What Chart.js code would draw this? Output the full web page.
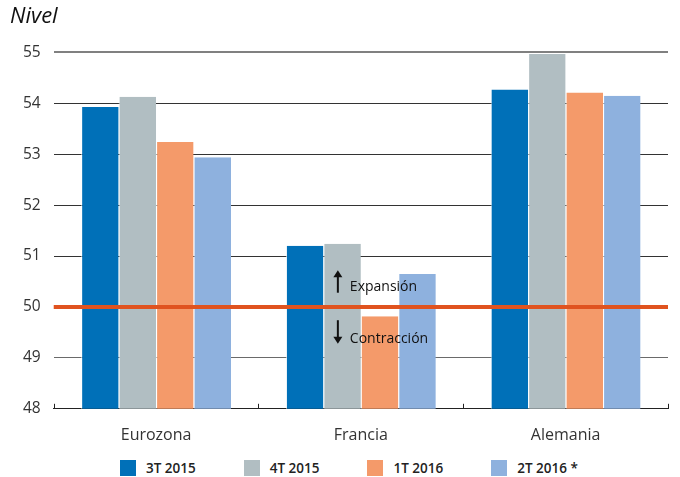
<!DOCTYPE html>
<html>
<head>
<meta charset="utf-8">
<script src="https://cdn.jsdelivr.net/npm/chart.js@4.4.1/dist/chart.umd.min.js"></script>
<style>
  html, body { margin: 0; padding: 0; background: #fff; }
  #wrap { width: 680px; height: 450px; position: relative; }
  #legend {
    position: absolute; left: 120px; top: 459px;
    display: flex; gap: 48px;
    font-family: "Open Sans", "Noto Sans", sans-serif;
    font-size: 13.5px; font-weight: 600; color: #222;
  }
  #legend .item { display: flex; align-items: center; }
  #legend .box { width: 16px; height: 16px; margin-right: 10px; }
</style>
</head>
<body>
<div id="wrap"><canvas id="chart"></canvas></div>
<div id="legend"></div>
<script>
var CATEGORIES = ['Eurozona', 'Francia', 'Alemania'];
var SERIES_NAMES = ['3T 2015', '4T 2015', '1T 2016', '2T 2016 *'];
var Q3_2015 = [53.93, 51.20, 54.27];
var Q4_2015 = [54.13, 51.24, 54.97];
var Q1_2016 = [53.24, 49.82, 54.21];
var Q2_2016 = [52.94, 50.65, 54.15];
var Y_TICKS = [48, 49, 50, 51, 52, 53, 54, 55];
var THRESHOLD = 50;

var COLORS = ['#0070b8', '#b1bec2', '#f49a6a', '#8eb1de'];
var FONT = '"Open Sans", "Noto Sans", sans-serif';

var seriesValues = [Q3_2015, Q4_2015, Q1_2016, Q2_2016];

/* threshold line, axis ticks and the expansion/contraction notes */
var overlay = {
  id: 'overlay',
  afterDatasetsDraw: function (chart) {
    var ctx = chart.ctx;
    var area = chart.chartArea;
    var x = chart.scales.x;
    var y = chart.scales.y;

    // small upward ticks on the bottom axis at category boundaries
    ctx.save();
    ctx.strokeStyle = '#222';
    ctx.lineWidth = 1;
    var step = (area.right - area.left) / CATEGORIES.length;
    for (var i = 0; i <= CATEGORIES.length; i++) {
      var px = Math.round(area.left + step * i) + 0.5;
      ctx.beginPath();
      ctx.moveTo(px, area.bottom);
      ctx.lineTo(px, area.bottom - 5);
      ctx.stroke();
    }

    // 50 line
    var py = y.getPixelForValue(THRESHOLD);
    ctx.strokeStyle = '#e0531f';
    ctx.lineWidth = 4;
    ctx.beginPath();
    ctx.moveTo(area.left, py);
    ctx.lineTo(area.right, py);
    ctx.stroke();

    // notes
    var cx = x.getPixelForValue(1) - 23;
    ctx.fillStyle = '#111';
    ctx.strokeStyle = '#111';
    ctx.lineWidth = 2;
    ctx.font = '14px ' + FONT;
    ctx.textBaseline = 'middle';
    ctx.textAlign = 'left';

    var upTop = y.getPixelForValue(50.72);
    var upBot = y.getPixelForValue(50.28);
    ctx.beginPath();
    ctx.moveTo(cx, upBot);
    ctx.lineTo(cx, upTop + 3);
    ctx.stroke();
    ctx.beginPath();
    ctx.moveTo(cx - 4.5, upTop + 7);
    ctx.lineTo(cx, upTop);
    ctx.lineTo(cx + 4.5, upTop + 7);
    ctx.closePath();
    ctx.fill();
    ctx.fillText('Expansión', cx + 12, y.getPixelForValue(50.39));

    var dnTop = y.getPixelForValue(49.74);
    var dnBot = y.getPixelForValue(49.28);
    ctx.beginPath();
    ctx.moveTo(cx, dnTop);
    ctx.lineTo(cx, dnBot - 3);
    ctx.stroke();
    ctx.beginPath();
    ctx.moveTo(cx - 4.5, dnBot - 7);
    ctx.lineTo(cx, dnBot);
    ctx.lineTo(cx + 4.5, dnBot - 7);
    ctx.closePath();
    ctx.fill();
    ctx.fillText('Contracción', cx + 12, y.getPixelForValue(49.37));
    ctx.restore();
  }
};

var datasets = SERIES_NAMES.map(function (name, i) {
  return {
    label: name,
    data: seriesValues[i],
    backgroundColor: COLORS[i],
    borderColor: 'rgba(255,255,255,0.7)',
    borderWidth: { left: 1, right: 0, top: 0, bottom: 0 },
    borderSkipped: false,
    categoryPercentage: 0.732,
    barPercentage: 1.0
  };
});

new Chart(document.getElementById('chart'), {
  type: 'bar',
  data: { labels: CATEGORIES, datasets: datasets },
  plugins: [overlay],
  options: {
    responsive: true,
    maintainAspectRatio: false,
    animation: false,
    layout: { padding: { left: 10, right: 12, top: 0, bottom: -4 } },
    plugins: {
      title: {
        display: true,
        text: 'Nivel',
        align: 'start',
        color: '#111',
        font: { family: FONT, size: 22, style: 'italic', weight: 'normal' },
        padding: { top: 4, bottom: 22 }
      },
      legend: { display: false },
      tooltip: { enabled: false }
    },
    scales: {
      x: {
        grid: { display: false },
        border: { display: true, color: '#222', width: 1 },
        ticks: {
          color: '#333',
          padding: 9,
          font: { family: FONT, size: 16 }
        }
      },
      y: {
        min: 48,
        max: 55,
        afterBuildTicks: function (axis) {
          axis.ticks = Y_TICKS.map(function (v) { return { value: v }; });
        },
        border: { display: false },
        grid: {
          drawTicks: false,
          color: function (c) {
            if (c.tick.value === 55) return '#808080';
            if (c.tick.value === 49) return '#6a6a6a';
            return '#333';
          },
          lineWidth: function (c) {
            return c.tick.value === 55 ? 2 : 1;
          }
        },
        ticks: {
          color: '#333',
          padding: 13,
          font: { family: FONT, size: 15.5 }
        }
      }
    }
  }
});

// legend below the chart
var legendEl = document.getElementById('legend');
SERIES_NAMES.forEach(function (name, i) {
  var item = document.createElement('div');
  item.className = 'item';
  var box = document.createElement('span');
  box.className = 'box';
  box.style.background = COLORS[i];
  var label = document.createElement('span');
  label.textContent = name;
  item.appendChild(box);
  item.appendChild(label);
  legendEl.appendChild(item);
});
</script>
</body>
</html>
